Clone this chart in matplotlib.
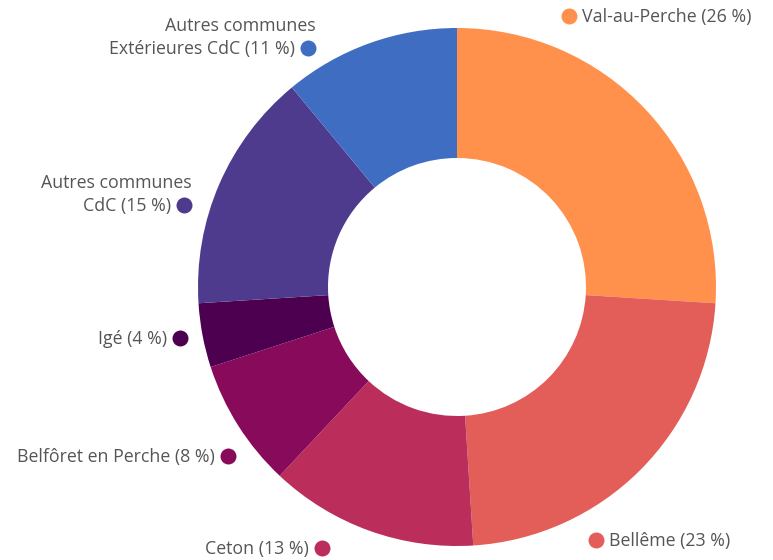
import matplotlib
matplotlib.use("Agg")
import matplotlib.pyplot as plt

categories = ["Val-au-Perche", "Bellême", "Ceton", "Belfôret en Perche", "Igé",
              "Autres communes\nCdC", "Autres communes\nExtérieures CdC"]
values = [26, 23, 13, 8, 4, 15, 11]
colors = ["#FF914D", "#E35D59", "#BB2D5B", "#870B5A", "#4E0050", "#4F3B8E", "#3F6DC2"]

# label anchor (dot position, pixels from top-left) and side
label_pos = [(569, 16), (596, 540), (322, 548), (228, 456), (180, 338), (184, 205), (308, 48)]
label_side = ["right", "right", "left", "left", "left", "left", "left"]

W, H = 773, 560
fig = plt.figure(figsize=(W / 100, H / 100), dpi=100)
ax = fig.add_axes([0, 0, 1, 1])

cx, cy = 457, H - 287
R = 259
ax.pie(values, colors=colors, startangle=90, counterclock=False,
       center=(cx, cy), radius=R, frame=True,
       wedgeprops=dict(width=R - 129, edgecolor="none"))
ax.set_xlim(0, W)
ax.set_ylim(0, H)
ax.set_aspect("equal")
ax.axis("off")

font = dict(family=["Open Sans", "DejaVu Sans"], fontsize=12.8, color="#555555")
line_h = 23
for cat, v, col, (px, py), side in zip(categories, values, colors, label_pos, label_side):
    y = H - py
    ax.plot([px], [y], marker="o", markersize=11.5, color=col, markeredgewidth=0)
    lines = f"{cat} ({v} %)".split("\n")
    if side == "right":
        ax.text(px + 13, y - 6, lines[-1], ha="left", va="baseline", **font)
    else:
        ax.text(px - 13, y - 6, lines[-1], ha="right", va="baseline", **font)
        for i, ln in enumerate(reversed(lines[:-1]), start=1):
            ax.text(px + 8, y - 6 + i * line_h, ln, ha="right", va="baseline", **font)

fig.savefig("out.png", dpi=100)
